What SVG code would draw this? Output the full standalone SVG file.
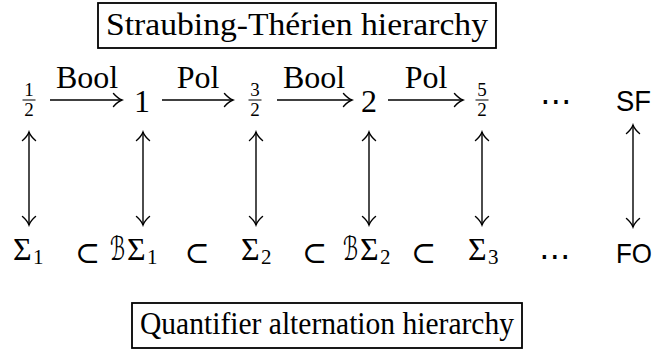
<svg xmlns="http://www.w3.org/2000/svg" width="654" height="353" viewBox="0 0 654 353">
<style>
.t{font-family:"Liberation Serif","DejaVu Serif",serif;fill:#000}
.s{font-family:"Liberation Sans","DejaVu Sans",sans-serif;fill:#000}
.m{font-family:"DejaVu Serif","DejaVu Sans",serif;fill:#000}
.big{font-size:32px}
.fr{font-size:19px}
.sub{font-size:21px}
.box{fill:none;stroke:#000;stroke-width:1.8}
.ar{fill:none;stroke:#000;stroke-width:1.4}
.bar{stroke:#000;stroke-width:1}
</style>
<defs>
<marker id="hd" markerUnits="userSpaceOnUse" viewBox="-11 -8 13 16" refX="0" refY="0" markerWidth="13" markerHeight="16" orient="auto-start-reverse">
<path d="M-8.5,-6.5 C-5,-2.5 -2,-0.7 0,0 C-2,0.7 -5,2.5 -8.5,6.5" fill="none" stroke="#000" stroke-width="1.4" stroke-linecap="round"/>
</marker>
</defs>
<rect width="654" height="353" fill="#fff"/>
<g id="title-top">
<rect class="box" x="98" y="3" width="398" height="45"/>
<text class="t" x="106" y="35" font-size="32" textLength="382" lengthAdjust="spacingAndGlyphs">Straubing-Thérien hierarchy</text>
</g>
<g id="title-bottom">
<rect class="box" x="132" y="303" width="390" height="45"/>
<text class="t" x="140" y="334" font-size="32" textLength="374" lengthAdjust="spacingAndGlyphs">Quantifier alternation hierarchy</text>
</g>
<g id="n-half">
<text class="t fr" x="29" y="95.5" text-anchor="middle">1</text>
<line class="bar" x1="22.5" y1="100" x2="35.5" y2="100"/>
<text class="t fr" x="29" y="115.5" text-anchor="middle">2</text>
</g>
<g id="n-one"><text class="t big" x="142" y="112" text-anchor="middle">1</text></g>
<g id="n-threehalf">
<text class="t fr" x="255" y="95.5" text-anchor="middle">3</text>
<line class="bar" x1="248.5" y1="100" x2="261.5" y2="100"/>
<text class="t fr" x="255" y="115.5" text-anchor="middle">2</text>
</g>
<g id="n-two"><text class="t big" x="369" y="112" text-anchor="middle">2</text></g>
<g id="n-fivehalf">
<text class="t fr" x="482" y="95.5" text-anchor="middle">5</text>
<line class="bar" x1="475.5" y1="100" x2="488.5" y2="100"/>
<text class="t fr" x="482" y="115.5" text-anchor="middle">2</text>
</g>
<g id="n-dots-top"><text class="m big" x="556" y="112" text-anchor="middle">⋯</text></g>
<g id="n-sf"><text class="s" x="616" y="111" font-size="29" textLength="35" lengthAdjust="spacingAndGlyphs">SF</text></g>
<g id="n-sigma1"><text class="t big" x="13" y="260">Σ<tspan class="sub" x="33" y="264">1</tspan></text></g>
<g id="n-bsigma1"><text class="t big" x="110" y="260"><tspan class="m" font-size="33" textLength="15" lengthAdjust="spacingAndGlyphs">ℬ</tspan><tspan x="127">Σ</tspan><tspan class="sub" x="147" y="264">1</tspan></text></g>
<g id="n-sigma2"><text class="t big" x="241" y="260">Σ<tspan class="sub" x="261" y="264">2</tspan></text></g>
<g id="n-bsigma2"><text class="t big" x="343" y="260"><tspan class="m" font-size="33" textLength="15" lengthAdjust="spacingAndGlyphs">ℬ</tspan><tspan x="360">Σ</tspan><tspan class="sub" x="380" y="264">2</tspan></text></g>
<g id="n-sigma3"><text class="t big" x="468" y="260">Σ<tspan class="sub" x="488" y="264">3</tspan></text></g>
<g id="n-dots-bottom"><text class="m big" x="555" y="267" text-anchor="middle">⋯</text></g>
<g id="n-fo"><text class="s" x="616" y="263" font-size="28" textLength="36" lengthAdjust="spacingAndGlyphs">FO</text></g>
<g id="subsets">
<text class="m" x="87.5" y="263" font-size="30" text-anchor="middle">⊂</text>
<text class="m" x="197" y="263" font-size="30" text-anchor="middle">⊂</text>
<text class="m" x="314.5" y="263" font-size="30" text-anchor="middle">⊂</text>
<text class="m" x="423.5" y="263" font-size="30" text-anchor="middle">⊂</text>
</g>
<g id="connectors">
<line class="ar" x1="50" y1="100" x2="122" y2="100" marker-end="url(#hd)"/>
<text class="t big" x="87" y="88" text-anchor="middle">Bool</text>
<line class="ar" x1="162" y1="100" x2="233" y2="100" marker-end="url(#hd)"/>
<text class="t big" x="198" y="88" text-anchor="middle">Pol</text>
<line class="ar" x1="277" y1="100" x2="352" y2="100" marker-end="url(#hd)"/>
<text class="t big" x="314" y="88" text-anchor="middle">Bool</text>
<line class="ar" x1="388" y1="100" x2="463" y2="100" marker-end="url(#hd)"/>
<text class="t big" x="426" y="88" text-anchor="middle">Pol</text>
<line class="ar" x1="29" y1="132" x2="29" y2="225" marker-start="url(#hd)" marker-end="url(#hd)"/>
<line class="ar" x1="143" y1="132" x2="143" y2="225" marker-start="url(#hd)" marker-end="url(#hd)"/>
<line class="ar" x1="256" y1="132" x2="256" y2="225" marker-start="url(#hd)" marker-end="url(#hd)"/>
<line class="ar" x1="369" y1="132" x2="369" y2="225" marker-start="url(#hd)" marker-end="url(#hd)"/>
<line class="ar" x1="482" y1="132" x2="482" y2="225" marker-start="url(#hd)" marker-end="url(#hd)"/>
<line class="ar" x1="633" y1="125" x2="633" y2="227" marker-start="url(#hd)" marker-end="url(#hd)"/>
</g>
</svg>
